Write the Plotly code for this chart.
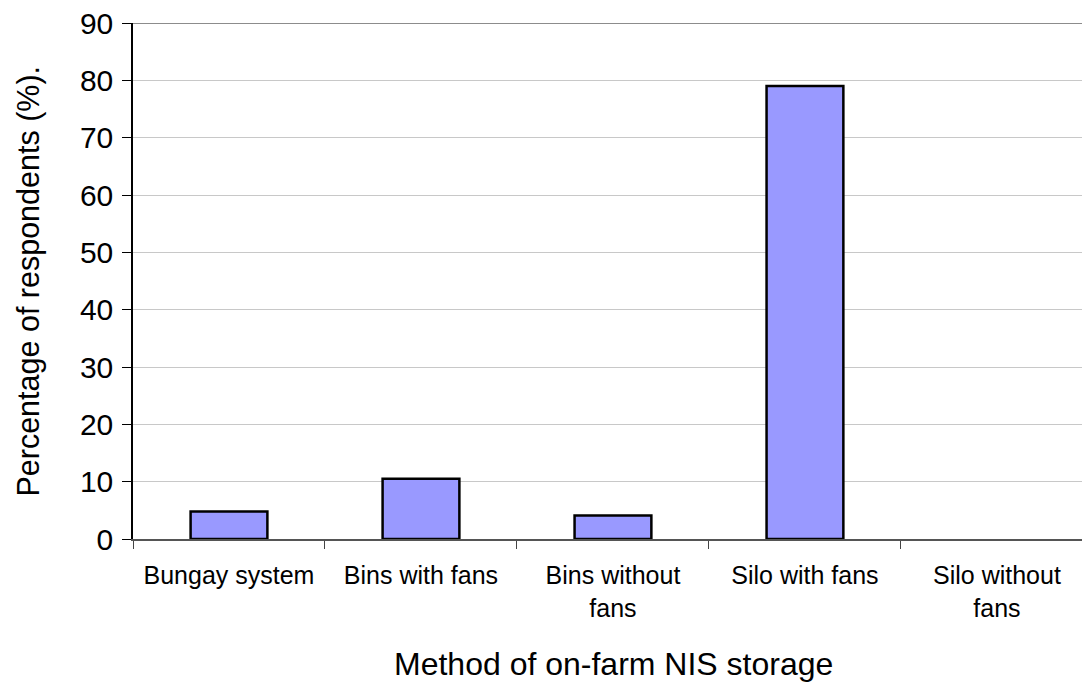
import plotly.graph_objects as go

# Storage methods and share of respondents using each (%)
categories = ["Bungay system", "Bins with fans", "Bins without<br>fans",
              "Silo with fans", "Silo without<br>fans"]
percent = [4.8, 10.5, 4.1, 79.0, 0]
y_ticks = [0, 10, 20, 30, 40, 50, 60, 70, 80, 90]

FONT = "Liberation Sans, Arial, sans-serif"

# no outline on empty bars so nothing is drawn for a zero share
outline_widths = [2.5 if v > 0 else 0 for v in percent]

fig = go.Figure()
fig.add_trace(go.Bar(
    x=categories,
    y=percent,
    width=0.4,
    marker=dict(color="#9999FF", line=dict(color="black", width=outline_widths)),
))

fig.update_layout(
    width=1082, height=684,
    margin=dict(l=133, r=0, t=23, b=145),
    paper_bgcolor="white", plot_bgcolor="white",
    showlegend=False,
    font=dict(family=FONT, color="black"),
)

fig.update_xaxes(
    type="category",
    range=[-0.5, 4.443],
    tickson="boundaries",
    ticks="outside", ticklen=8, tickwidth=1, tickcolor="#444444",
    ticklabelstandoff=13,
    tickfont=dict(size=25, family=FONT, color="black"),
    showline=True, linecolor="#555555", linewidth=2,
    showgrid=False, zeroline=False,
)

fig.update_yaxes(
    range=[0, 90],
    tickmode="array", tickvals=y_ticks,
    ticks="outside", ticklen=9, tickwidth=1, tickcolor="black",
    ticklabelstandoff=3,
    tickfont=dict(size=30, family=FONT, color="black"),
    showline=True, linecolor="black", linewidth=1.5,
    showgrid=True, gridcolor="#c8c8c8", gridwidth=1,
    zeroline=False,
)

# Upper frame edge of the plot area
fig.add_shape(type="line", xref="paper", yref="y", x0=0, x1=1, y0=90, y1=90,
              line=dict(color="#8c8c8c", width=2))

fig.add_annotation(
    text="Method of on-farm NIS storage",
    xref="paper", yref="paper", x=0.5058, y=-0.2422,
    xanchor="center", yanchor="middle", showarrow=False,
    font=dict(size=32, family=FONT, color="black"),
)
fig.add_annotation(
    text="Percentage of respondents (%).",
    xref="paper", yref="paper", x=-0.1106, y=0.499,
    xanchor="center", yanchor="middle", showarrow=False, textangle=-90,
    font=dict(size=30.5, family=FONT, color="black"),
)

fig.write_html("out.html")
